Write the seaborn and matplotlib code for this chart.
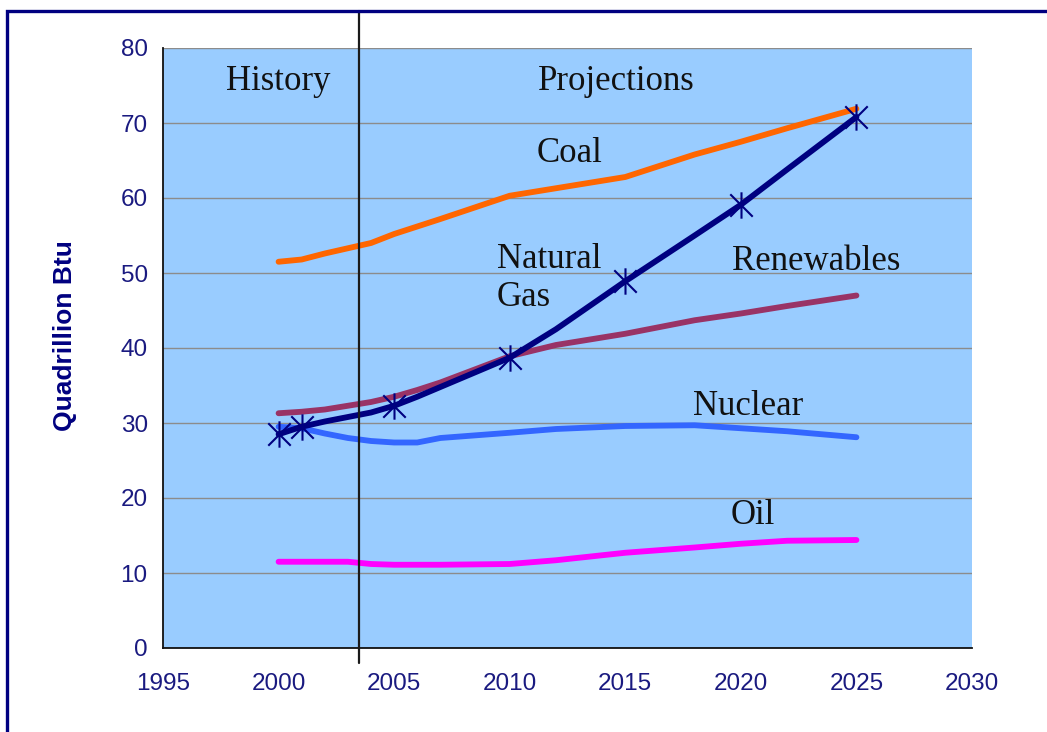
import numpy as np
import pandas as pd
import seaborn as sns
import matplotlib
matplotlib.use("Agg")
import matplotlib.pyplot as plt
from matplotlib.path import Path
from matplotlib.patches import Rectangle
import matplotlib.transforms as mtransforms

# Energy consumption by fuel, quadrillion Btu
years = [2000, 2001, 2002, 2003, 2004, 2005, 2006, 2007, 2010, 2012, 2015, 2018, 2020, 2022, 2025]
coal = [51.5, 51.8, 52.6, 53.3, 54.0, 55.2, 56.2, 57.2, 60.3, 61.3, 62.8, 65.8, 67.5, 69.3, 71.9]
natural_gas = [28.5, 29.5, 30.2, 30.8, 31.4, 32.3, 33.5, 34.8, 38.7, 42.5, 48.9, 55.0, 59.1, 63.8, 70.8]
renewables = [31.3, 31.5, 31.8, 32.3, 32.8, 33.5, 34.4, 35.4, 38.9, 40.4, 41.9, 43.7, 44.6, 45.6, 47.0]
nuclear = [29.5, 29.3, 28.6, 28.0, 27.6, 27.4, 27.4, 28.0, 28.7, 29.2, 29.6, 29.7, 29.3, 28.9, 28.1]
oil = [11.5, 11.5, 11.5, 11.5, 11.2, 11.1, 11.1, 11.1, 11.2, 11.7, 12.7, 13.4, 13.9, 14.3, 14.4]
gas_marker_years = [2000, 2001, 2005, 2010, 2015, 2020, 2025]

x_ticks = [1995, 2000, 2005, 2010, 2015, 2020, 2025, 2030]
y_ticks = [0, 10, 20, 30, 40, 50, 60, 70, 80]
divider_year = 2003.5

series = {
    "Coal": (coal, "#FF6600"),
    "Renewables": (renewables, "#993366"),
    "Nuclear": (nuclear, "#3366FF"),
    "Oil": (oil, "#FF00FF"),
    "Natural Gas": (natural_gas, "#000080"),
}

sns.set_theme(style="white")
plt.rcParams["font.family"] = ["Liberation Sans", "DejaVu Sans"]

fig = plt.figure(figsize=(10.47, 7.32), dpi=100)
fig.patch.set_facecolor("white")
ax = fig.add_axes([163 / 1047, 84 / 732, 809 / 1047, 600 / 732])
ax.set_facecolor("#99CCFF")

# Asterisk-style marker: a vertical stroke plus an X
star = Path(
    [(0, -1), (0, 1), (-0.85, -0.85), (0.85, 0.85), (-0.85, 0.85), (0.85, -0.85)],
    [Path.MOVETO, Path.LINETO, Path.MOVETO, Path.LINETO, Path.MOVETO, Path.LINETO],
)

for name, (vals, color) in series.items():
    df = pd.DataFrame({"year": years, "value": vals})
    kws = dict(color=color, linewidth=4.2, solid_capstyle="round",
               solid_joinstyle="round", zorder=3, legend=False)
    if name == "Natural Gas":
        kws.update(marker=star, markersize=19, markeredgewidth=1.5,
                   markeredgecolor=color, markerfacecolor="none",
                   markevery=[years.index(y) for y in gas_marker_years], zorder=4)
    sns.lineplot(data=df, x="year", y="value", ax=ax, **kws)

ax.set_xlim(1995, 2030)
ax.set_ylim(0, 80)
ax.set_xticks(x_ticks)
ax.set_yticks(y_ticks)
ax.set_xticklabels([str(v) for v in x_ticks])
ax.set_yticklabels([str(v) for v in y_ticks])

ax.yaxis.grid(True, color="#8C8C8C", linewidth=1.0)
ax.xaxis.grid(False)
ax.set_axisbelow(True)
for side in ["top", "right"]:
    ax.spines[side].set_visible(False)
for side in ["left", "bottom"]:
    ax.spines[side].set_visible(True)
    ax.spines[side].set_color("#111111")
    ax.spines[side].set_linewidth(1.3)

label_color = "#1A1A80"
ax.tick_params(axis="both", which="major", direction="out", length=6,
               width=1.1, color="#111111", labelcolor=label_color,
               labelsize=17.5)
ax.tick_params(axis="y", pad=5)
ax.tick_params(axis="x", pad=12)

ax.set_xlabel("")
ax.set_ylabel("Quadrillion Btu", fontsize=19, fontweight="bold", color="#000080")
ax.yaxis.set_label_coords(-0.106, 0.52)

# History / projections divider, running past the plot edges
trans = mtransforms.blended_transform_factory(ax.transData, ax.transAxes)
ax.plot([divider_year, divider_year], [-0.025, 1.062], transform=trans,
        color="#1A1A1A", linewidth=1.6, clip_on=False, zorder=5)

serif = ["Liberation Serif", "DejaVu Serif"]
text_kw = dict(fontsize=25, family=serif, color="#111111", zorder=6)
ax.text(2000.0, 75.6, "History", ha="center", va="center", **text_kw)
ax.text(2014.6, 75.6, "Projections", ha="center", va="center", **text_kw)
ax.text(2012.6, 66.0, "Coal", ha="center", va="center", **text_kw)
ax.text(2009.45, 49.2, "Natural\nGas", ha="left", va="center",
        linespacing=1.2, **text_kw)
ax.text(2023.25, 51.6, "Renewables", ha="center", va="center", **text_kw)
ax.text(2020.3, 32.2, "Nuclear", ha="center", va="center", **text_kw)
ax.text(2020.5, 17.7, "Oil", ha="center", va="center", **text_kw)

# Navy frame around the whole chart
fig.patches.append(Rectangle((7 / 1047, -20 / 732), 1.1, (732 - 11 + 20) / 732,
                             transform=fig.transFigure, fill=False,
                             edgecolor="#000080", linewidth=2.4, zorder=0))

fig.savefig("out.png", dpi=100, facecolor="white")
